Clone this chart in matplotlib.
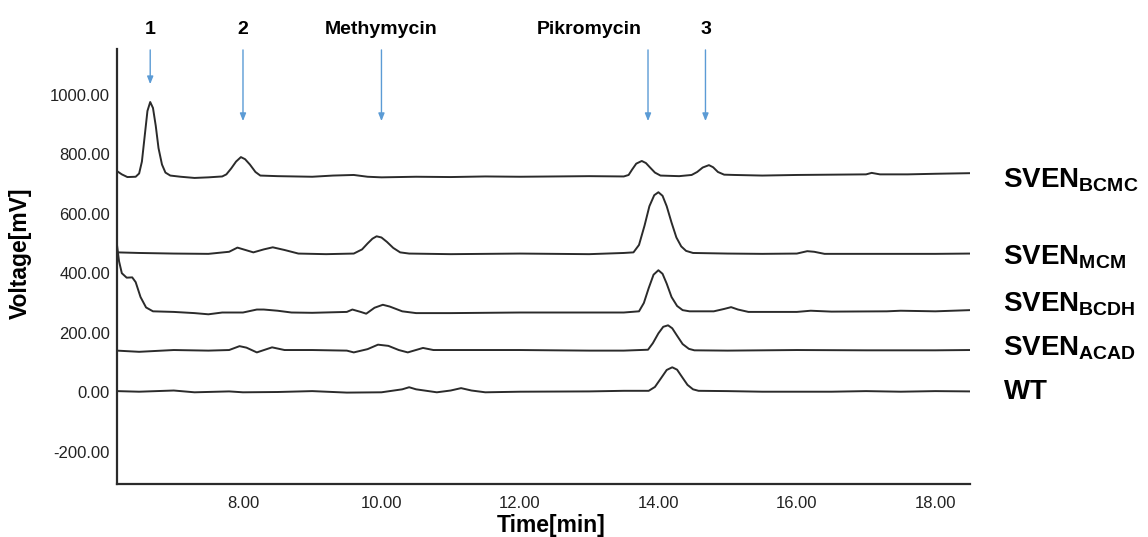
import matplotlib
matplotlib.use("Agg")
import matplotlib.pyplot as plt

plt.rcParams['font.family'] = ['Liberation Sans', 'DejaVu Sans']
plt.rcParams['mathtext.fontset'] = 'custom'
plt.rcParams['mathtext.rm'] = 'Liberation Sans'
plt.rcParams['mathtext.bf'] = 'Liberation Sans:bold'

# ---- data ----
t_bcmc = [6.18, 6.25, 6.33, 6.45, 6.5, 6.54, 6.58, 6.62, 6.66, 6.7, 6.74, 6.78, 6.83, 6.88, 6.95, 7.1, 7.3,
          7.5, 7.7, 7.76, 7.83, 7.9, 7.97, 8.03, 8.1, 8.18, 8.25, 8.5, 9.0, 9.3, 9.6, 9.8, 10.0, 10.5, 11.0,
          11.5, 12.0, 13.0, 13.5, 13.57, 13.62, 13.68, 13.76, 13.82, 13.88, 13.95, 14.03, 14.3, 14.48, 14.56,
          14.64, 14.73, 14.79, 14.86, 14.95, 15.1, 15.5, 16.0, 16.5, 17.0, 17.08, 17.2, 17.6, 18.0, 18.5]
v_bcmc = [743, 732, 723, 724, 735, 775, 860, 945, 975, 955, 895, 820, 765, 738, 728, 724, 720,
          722, 725, 732, 752, 775, 790, 783, 765, 740, 728, 726, 724, 728, 730, 724, 722, 724, 723,
          725, 724, 726, 725, 730, 748, 768, 777, 770, 755, 738, 728, 726, 730, 740,
          755, 763, 756, 740, 731, 730, 728, 730, 731, 732, 737, 732, 732, 734, 736]

t_mcm = [6.18, 6.5, 7.0, 7.5, 7.8, 7.92, 8.05, 8.15, 8.3, 8.43, 8.6, 8.8, 9.2, 9.6, 9.72, 9.8, 9.87, 9.93,
         10.0, 10.08, 10.17, 10.27, 10.4, 11.0, 12.0, 13.0, 13.5, 13.64, 13.72, 13.8, 13.87, 13.94, 14.0,
         14.06, 14.12, 14.19, 14.26, 14.33, 14.4, 14.5, 15.0, 15.5, 16.0, 16.15, 16.25, 16.4, 17.0, 18.0,
         18.5]
v_mcm = [470, 468, 466, 465, 472, 486, 477, 470, 480, 487, 478, 466, 464, 466, 480, 500, 516, 524,
         520, 505, 485, 470, 466, 464, 466, 464, 468, 470, 495, 560, 625, 662, 672,
         660, 625, 570, 520, 490, 475, 468, 466, 465, 466, 474, 472, 465, 465, 465,
         466]

t_bcdh = [6.18, 6.21, 6.25, 6.32, 6.4, 6.45, 6.52, 6.6, 6.7, 7.0, 7.3, 7.5, 7.7, 8.0, 8.2, 8.3, 8.5, 8.7, 9.0,
          9.5, 9.58, 9.7, 9.78, 9.9, 10.02, 10.12, 10.3, 10.5, 11.0, 12.0, 13.0, 13.5, 13.72, 13.79, 13.86,
          13.93, 14.0, 14.06, 14.12, 14.19, 14.27, 14.35, 14.45, 14.8, 14.95, 15.05, 15.15, 15.3, 16.0,
          16.2, 16.5, 17.3, 17.5, 18.0, 18.5]
v_bcdh = [495, 440, 400, 385, 386, 370, 320, 285, 272, 270, 266, 262, 268, 268, 278, 278, 274, 268, 267,
          270, 278, 270, 264, 284, 294, 288, 272, 266, 266, 268, 268, 268, 272, 300, 350,
          395, 410, 398, 365, 320, 290, 276, 272, 272, 280, 286, 278, 270, 270,
          274, 271, 272, 274, 272, 276]

t_acad = [6.18, 6.5, 7.0, 7.5, 7.8, 7.95, 8.05, 8.2, 8.42, 8.6, 9.0, 9.5, 9.6, 9.8, 9.95, 10.1, 10.25, 10.38,
          10.6, 10.75, 11.0, 12.0, 13.0, 13.5, 13.85, 13.92, 14.0, 14.07, 14.14, 14.2, 14.27, 14.35, 14.44,
          14.52, 15.0, 16.0, 17.0, 18.0, 18.5]
v_acad = [140, 136, 142, 140, 142, 155, 150, 134, 151, 142, 142, 140, 134, 145, 160, 156, 142, 134,
          149, 142, 142, 142, 140, 140, 143, 165, 198, 220, 225, 215, 190, 162, 146,
          141, 140, 142, 141, 141, 142]

t_wt = [6.18, 6.5, 7.0, 7.3, 7.8, 8.0, 8.5, 9.0, 9.5, 10.0, 10.3, 10.4, 10.5, 10.8, 11.0, 11.15, 11.3, 11.5,
        12.0, 13.0, 13.5, 13.86, 13.95, 14.04, 14.12, 14.2, 14.27, 14.34, 14.42, 14.5, 14.58, 15.0, 15.5,
        16.0, 16.5, 17.0, 17.5, 18.0, 18.5]
v_wt = [4, 2, 6, 0, 3, 0, 1, 4, -1, 0, 10, 17, 10, 0, 6, 14, 6, 0,
        2, 3, 5, 5, 18, 48, 75, 84, 76, 52, 25, 10, 5, 4, 2,
        2, 2, 4, 2, 4, 3]

series = [(t_bcmc, v_bcmc), (t_mcm, v_mcm), (t_bcdh, v_bcdh), (t_acad, v_acad), (t_wt, v_wt)]
trace_labels = [r'$\mathbf{SVEN_{BCMC}}$', r'$\mathbf{SVEN_{MCM}}$', r'$\mathbf{SVEN_{BCDH}}$',
                r'$\mathbf{SVEN_{ACAD}}$', r'$\mathbf{WT}$']
label_y = [713, 455, 295, 148, 0]

peak_names = ['1', '2', 'Methymycin', 'Pikromycin', '3']
peak_times = [6.66, 8.0, 10.0, 13.85, 14.68]
arrow_tips = [1035, 911, 911, 911, 911]
name_x = [6.66, 8.0, 10.0, 13.0, 14.68]

x_ticks = [8, 10, 12, 14, 16, 18]
y_ticks = [-200, 0, 200, 400, 600, 800, 1000]

# ---- figure ----
fig = plt.figure(figsize=(11.48, 5.37), dpi=100)
ax = fig.add_axes([0.1019, 0.0987, 0.743, 0.810])

for t, v in series:
    ax.plot(t, v, color='#2b2b2b', lw=1.4, solid_joinstyle='round')

ax.set_xlim(6.18, 18.5)
ax.set_ylim(-308, 1153)
ax.set_xticks(x_ticks)
ax.set_xticklabels([f'{x:.2f}' for x in x_ticks])
ax.set_yticks(y_ticks)
ax.set_yticklabels([f'{y:.2f}' for y in y_ticks])
ax.tick_params(length=0, labelsize=12, labelcolor='#222222')
ax.tick_params(axis='x', pad=9)
ax.tick_params(axis='y', pad=5)
for s in ['top', 'right']:
    ax.spines[s].set_visible(False)
for s in ['left', 'bottom']:
    ax.spines[s].set_linewidth(1.6)
    ax.spines[s].set_color('#2b2b2b')

ax.set_xlabel('Time[min]', fontsize=16.5, fontweight='bold')
ax.xaxis.set_label_coords(0.509, -0.070)
ax.set_ylabel('Voltage[mV]', fontsize=16.5, fontweight='bold')
ax.yaxis.set_label_coords(-0.100, 0.53)

for lab, y in zip(trace_labels, label_y):
    ax.text(18.98, y, lab, fontsize=20, va='center', ha='left', clip_on=False)

for name, xt, xn, tip in zip(peak_names, peak_times, name_x, arrow_tips):
    ax.annotate('', xy=(xt, tip), xytext=(xt, 1150),
                arrowprops=dict(arrowstyle='-|>,head_length=0.45,head_width=0.18',
                                color='#5b9bd5', lw=1.0, shrinkA=0, shrinkB=0),
                annotation_clip=False)
    ax.text(xn, 1220, name, fontsize=14, fontweight='bold', ha='center', va='center', clip_on=False)

fig.savefig('out.png', dpi=100)
